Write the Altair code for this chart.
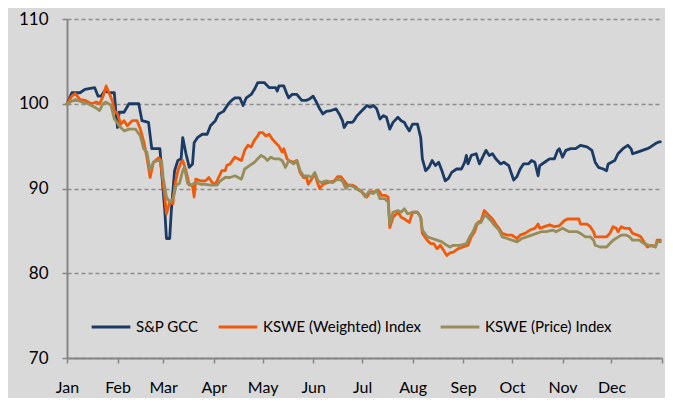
import altair as alt
import pandas as pd

BASE = "2011-01-01"
SERIES = ["S&P GCC", "KSWE (Weighted) Index", "KSWE (Price) Index"]
COLORS = ["#1B3A64", "#F05A0A", "#978D5B"]

sp_days = [0, 3, 8, 11, 17, 19, 21, 23, 26, 29, 30, 31, 32, 35, 38, 44, 46, 50, 52, 57,
           58, 60, 61, 63, 64, 66, 68, 70, 71, 73, 75, 77, 78, 80, 83, 86, 88, 91, 93, 96,
           99, 101, 103, 106, 108, 110, 113, 115, 117, 121, 124, 128, 129, 130, 133, 135, 136, 138, 141, 144,
           147, 149, 151, 153, 155, 157, 159, 162, 165, 167, 169, 170, 172, 175, 176, 178, 181, 184, 186, 188,
           190, 192, 194, 196, 198, 200, 203, 205, 207, 208, 210, 212, 215, 217, 218, 220, 222, 224, 226, 228,
           230, 232, 234, 236, 239, 242, 244, 245, 246, 248, 251, 253, 255, 257, 259, 261, 263, 266, 268, 271,
           274, 276, 278, 280, 283, 285, 287, 289, 290, 293, 296, 299, 301, 302, 304, 306, 309, 312, 315, 319,
           322, 324, 326, 329, 331, 332, 336, 338, 341, 344, 346, 347, 350, 353, 356, 358, 361, 363, 364]
sp_vals = [100.0, 101.3, 101.3, 101.7, 101.9, 100.9, 100.9, 101.5, 101.3, 101.3, 99.0, 97.2, 99.0, 99.0, 100.0, 100.0, 98.0, 97.8, 94.7, 94.7,
           92.1, 87.4, 84.1, 84.1, 87.4, 92.1, 93.3, 93.5, 96.0, 94.1, 92.5, 92.9, 95.4, 96.0, 96.4, 96.4, 97.4, 98.0, 98.8, 99.1,
           100.0, 100.4, 100.7, 100.7, 99.8, 100.7, 101.1, 101.7, 102.5, 102.5, 101.9, 101.9, 101.5, 102.1, 102.1, 101.1, 100.7, 101.1, 101.1, 100.4,
           100.4, 100.6, 100.9, 100.2, 99.4, 98.8, 99.1, 99.2, 99.4, 98.8, 98.0, 97.2, 97.8, 97.8, 98.0, 98.6, 99.2, 99.8, 99.6, 99.8,
           99.4, 98.2, 98.6, 98.4, 97.0, 97.8, 98.4, 98.0, 97.8, 97.4, 96.8, 97.6, 97.6, 96.0, 93.5, 92.1, 92.5, 93.3, 92.7, 93.1,
           92.1, 90.9, 91.2, 91.9, 92.3, 92.3, 93.1, 93.9, 92.9, 93.9, 94.1, 92.9, 93.7, 94.5, 93.9, 94.1, 93.5, 92.9, 93.1, 92.7,
           91.0, 91.4, 92.3, 92.9, 92.9, 93.3, 93.1, 91.5, 92.7, 93.1, 93.5, 93.5, 94.5, 94.7, 93.7, 94.5, 94.7, 94.7, 95.1, 94.9,
           94.5, 93.1, 92.5, 92.3, 92.1, 92.9, 93.3, 94.1, 94.7, 95.1, 94.7, 94.1, 94.3, 94.5, 94.7, 94.9, 95.3, 95.5, 95.5]

w_days = [0, 3, 5, 8, 11, 15, 18, 20, 22, 24, 26, 28, 29, 31, 33, 35, 37, 40, 43, 45,
          47, 49, 51, 53, 56, 57, 58, 60, 61, 63, 65, 66, 68, 70, 71, 73, 75, 77, 78, 79,
          82, 85, 87, 89, 91, 93, 95, 97, 98, 100, 103, 107, 109, 111, 113, 115, 117, 118, 120, 122,
          124, 126, 128, 130, 132, 133, 135, 136, 139, 141, 143, 145, 147, 148, 150, 152, 154, 155, 157, 160,
          164, 166, 168, 170, 172, 175, 177, 179, 181, 184, 186, 189, 191, 193, 195, 197, 198, 200, 203, 205,
          207, 210, 212, 215, 217, 218, 221, 223, 225, 227, 229, 231, 233, 235, 237, 240, 243, 246, 248, 250,
          252, 254, 256, 257, 259, 261, 263, 265, 267, 270, 273, 276, 278, 281, 284, 287, 289, 290, 293, 296,
          299, 302, 305, 307, 314, 315, 319, 321, 323, 324, 327, 331, 333, 335, 337, 338, 340, 342, 345, 347,
          350, 352, 354, 356, 359, 361, 362, 364]
w_vals = [100.0, 100.9, 101.2, 100.5, 100.4, 100.0, 100.2, 100.0, 100.8, 102.1, 101.2, 100.2, 99.2, 98.8, 97.6, 98.0, 97.4, 98.0, 98.0, 97.0,
          95.6, 93.7, 91.3, 93.1, 93.6, 93.5, 92.1, 89.0, 87.0, 88.4, 88.2, 90.2, 92.1, 93.1, 93.3, 92.1, 90.4, 90.4, 89.0, 91.1,
          90.9, 90.9, 91.3, 90.7, 90.5, 91.3, 92.1, 92.1, 92.7, 92.9, 93.7, 93.3, 94.5, 95.1, 94.9, 95.7, 96.2, 96.6, 96.6, 96.2,
          96.4, 95.8, 95.4, 95.0, 94.3, 94.7, 93.5, 93.3, 93.1, 93.3, 91.9, 91.3, 91.3, 90.5, 91.1, 91.7, 90.5, 90.0, 90.5, 90.7,
          90.9, 91.4, 91.4, 90.9, 90.4, 90.4, 90.2, 89.8, 89.6, 89.0, 89.6, 89.6, 89.8, 89.2, 89.2, 89.0, 85.4, 86.6, 87.2, 86.6,
          86.4, 86.0, 87.2, 87.2, 86.6, 84.7, 83.9, 83.5, 83.5, 82.9, 83.3, 82.7, 82.1, 82.4, 82.5, 82.9, 83.1, 83.3, 84.3, 84.9,
          86.0, 86.2, 87.4, 87.2, 86.8, 86.4, 85.8, 85.3, 84.7, 84.5, 84.5, 84.1, 84.5, 84.7, 85.1, 85.3, 85.8, 85.3, 85.5, 85.7,
          85.5, 85.6, 86.2, 86.4, 86.4, 85.8, 85.8, 85.5, 84.9, 84.3, 84.3, 84.3, 84.7, 85.5, 85.3, 84.9, 85.5, 85.3, 85.3, 84.7,
          84.5, 84.3, 83.7, 83.1, 83.3, 83.1, 83.9, 83.9]

p_days = [0, 5, 9, 13, 17, 20, 22, 24, 27, 29, 30, 32, 35, 38, 42, 45, 47, 49, 51, 53,
          56, 58, 59, 61, 63, 65, 67, 69, 71, 72, 74, 76, 79, 82, 85, 88, 92, 94, 97, 100,
          103, 107, 109, 112, 115, 117, 119, 121, 123, 125, 127, 130, 132, 134, 136, 139, 141, 143, 145, 148,
          150, 152, 154, 156, 159, 163, 166, 169, 171, 173, 176, 177, 180, 183, 185, 188, 190, 192, 195, 197,
          198, 200, 203, 205, 207, 209, 212, 215, 217, 218, 221, 224, 227, 230, 233, 235, 237, 241, 245, 247,
          249, 251, 254, 256, 257, 260, 262, 265, 267, 270, 273, 276, 279, 282, 285, 288, 291, 294, 298, 300,
          304, 308, 313, 315, 318, 321, 323, 324, 327, 331, 333, 335, 340, 343, 345, 347, 351, 354, 357, 361,
          362, 364]
p_vals = [100.0, 100.5, 100.2, 100.0, 99.6, 99.2, 100.0, 100.2, 99.8, 98.2, 98.0, 97.4, 96.8, 97.0, 97.0, 96.2, 94.7, 94.3, 92.1, 93.1,
          93.3, 93.3, 91.3, 89.0, 88.4, 88.8, 90.4, 90.6, 92.1, 92.5, 90.6, 90.4, 90.7, 90.5, 90.5, 90.4, 90.4, 90.9, 91.3, 91.3,
          91.5, 91.1, 92.3, 92.7, 93.1, 93.5, 93.9, 93.7, 93.3, 93.7, 93.5, 93.5, 93.3, 92.5, 93.3, 92.9, 93.3, 92.1, 91.5, 91.5,
          91.3, 91.9, 90.9, 90.7, 90.9, 90.7, 91.1, 90.9, 90.0, 90.4, 90.2, 90.0, 89.8, 89.0, 89.6, 89.4, 89.8, 88.8, 88.8, 88.4,
          85.8, 87.2, 87.4, 87.2, 87.6, 87.0, 87.2, 87.2, 86.6, 85.1, 84.3, 84.1, 83.9, 83.7, 83.3, 83.1, 83.3, 83.3, 83.5, 84.3,
          84.9, 85.8, 86.0, 86.8, 86.8, 86.2, 85.7, 85.1, 84.3, 84.1, 83.9, 83.7, 84.1, 84.3, 84.5, 84.7, 84.9, 84.9, 85.1, 84.9,
          85.3, 84.9, 84.9, 84.7, 84.3, 84.3, 83.9, 83.3, 83.1, 83.1, 83.5, 83.9, 84.5, 84.5, 84.3, 83.9, 83.9, 83.5, 83.3, 83.1,
          83.7, 83.7]

y_ticks = [70, 80, 90, 100, 110]


def frame(days, vals, name):
    return pd.DataFrame({
        "date": pd.Timestamp(BASE) + pd.to_timedelta(days, unit="D"),
        "value": vals,
        "series": name,
    })


df = pd.concat([
    frame(sp_days, sp_vals, SERIES[0]),
    frame(w_days, w_vals, SERIES[1]),
    frame(p_days, p_vals, SERIES[2]),
], ignore_index=True)

FONT = "Lato"
month_ticks = [alt.DateTime(year=2011, month=m, date=1) for m in range(1, 13)] + [
    alt.DateTime(year=2012, month=1, date=1)]

x_enc = alt.X(
    "date:T",
    scale=alt.Scale(domain=[alt.DateTime(year=2011, month=1, date=1),
                            alt.DateTime(year=2012, month=1, date=1)]),
    axis=alt.Axis(
        values=month_ticks,
        labelExpr="year(datum.value) > 2011 ? '' : timeFormat(datum.value, '%b')",
        title=None, grid=False,
        domainColor="#868686", domainWidth=2,
        tickColor="#868686", tickSize=5, tickWidth=1.5,
        labelFont=FONT, labelFontSize=16, labelColor="#000000",
        labelPadding=16, labelFlush=False, labelOverlap=False,
    ),
)
y_enc = alt.Y(
    "value:Q",
    scale=alt.Scale(domain=[70, 110], nice=False, zero=False),
    axis=alt.Axis(
        values=y_ticks, title=None, grid=True,
        gridDash=[4, 3], gridColor="#8C8C8C", gridWidth=1.3,
        domainColor="#868686", domainWidth=2,
        tickColor="#868686", tickSize=5, tickWidth=1.5,
        labelFont=FONT, labelFontSize=17, labelColor="#000000",
        labelPadding=14,
    ),
)
color_enc = alt.Color(
    "series:N",
    scale=alt.Scale(domain=SERIES, range=COLORS),
    sort=SERIES,
    legend=alt.Legend(
        title=None, orient="none", direction="horizontal",
        legendX=23, legendY=287,
        symbolType="stroke", symbolSize=1500, symbolStrokeWidth=3,
        labelFont=FONT, labelFontSize=15, labelColor="#000000",
        labelLimit=0, labelOffset=4, columnPadding=13, padding=0,
    ),
)

layers = [
    alt.Chart(df).transform_filter(alt.datum.series == name)
    .mark_line(strokeWidth=2.8, strokeJoin="round", strokeCap="round")
    .encode(x=x_enc, y=y_enc, color=color_enc)
    for name in SERIES
]

chart = alt.layer(*layers).properties(
    width=595, height=339,
    autosize=alt.AutoSizeParams(type="none"),
    padding={"left": 59, "top": 11, "right": 3, "bottom": 40},
    background="#D9D9D9",
).configure_view(strokeWidth=0)

chart.save("out.html", embed_options={"renderer": "svg", "actions": False})
